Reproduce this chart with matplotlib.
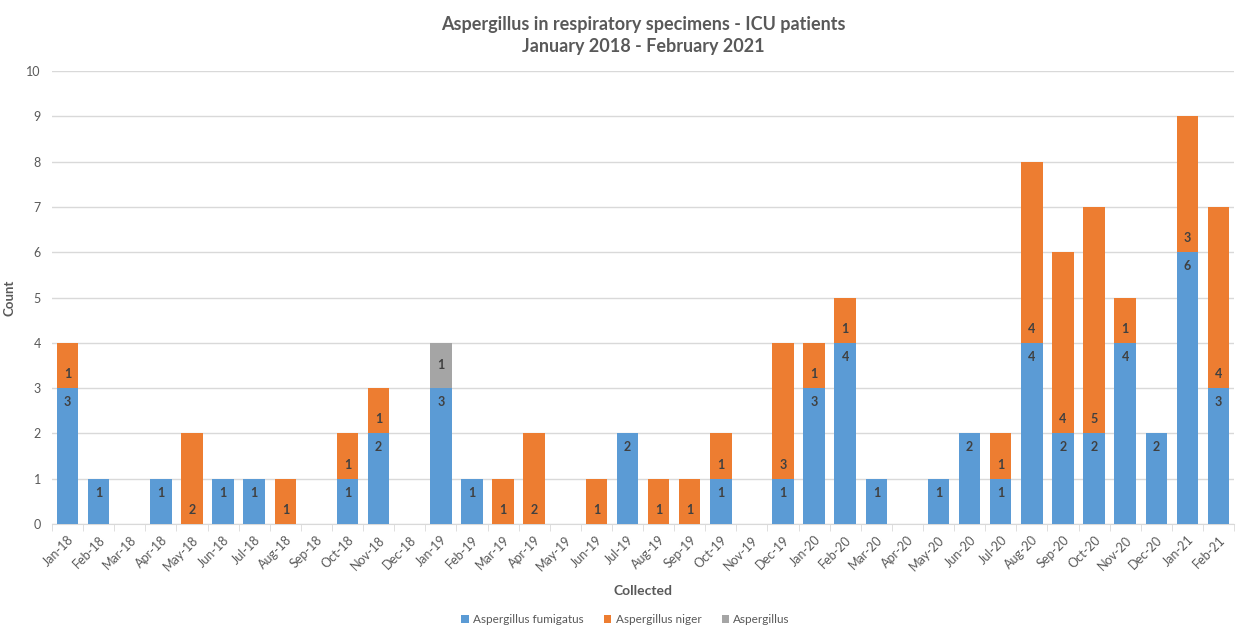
import matplotlib
matplotlib.use("Agg")
import matplotlib.pyplot as plt
import numpy as np

plt.rcParams['font.family'] = ['Lato', 'DejaVu Sans']

months = ["Jan-18","Feb-18","Mar-18","Apr-18","May-18","Jun-18","Jul-18","Aug-18","Sep-18","Oct-18","Nov-18","Dec-18",
          "Jan-19","Feb-19","Mar-19","Apr-19","May-19","Jun-19","Jul-19","Aug-19","Sep-19","Oct-19","Nov-19","Dec-19",
          "Jan-20","Feb-20","Mar-20","Apr-20","May-20","Jun-20","Jul-20","Aug-20","Sep-20","Oct-20","Nov-20","Dec-20",
          "Jan-21","Feb-21"]
fumigatus = [3,1,0,1,0,1,1,0,0,1,2,0,
             3,1,0,0,0,0,2,0,0,1,0,1,
             3,4,1,0,1,2,1,4,2,2,4,2,
             6,3]
niger = [1,0,0,0,2,0,0,1,0,1,1,0,
         0,0,1,2,0,1,0,1,1,1,0,3,
         1,1,0,0,0,0,1,4,4,5,1,0,
         3,4]
aspergillus = [0,0,0,0,0,0,0,0,0,0,0,0,
               1,0,0,0,0,0,0,0,0,0,0,0,
               0,0,0,0,0,0,0,0,0,0,0,0,
               0,0]
series = [("Aspergillus fumigatus", fumigatus, "#5B9BD5", "end"),
          ("Aspergillus niger", niger, "#ED7D31", "base"),
          ("Aspergillus", aspergillus, "#A5A5A5", "center")]

fig = plt.figure(figsize=(12.39, 6.29), dpi=100)
ax = fig.add_axes([0.042, 0.167, 0.954, 0.72])
x = np.arange(len(months))
bottom = np.zeros(len(months))
txtc = "#404040"
for name, vals, col, pos in series:
    v = np.array(vals, dtype=float)
    ax.bar(x, v, 0.69, bottom=bottom, color=col, label=name, zorder=3)
    for xi, (b, val) in enumerate(zip(bottom, v)):
        if val > 0:
            if pos == "end":
                yy = b + val - 0.31
            elif pos == "base":
                yy = b + 0.31
            else:
                yy = b + val / 2
            ax.text(xi, yy, f"{int(val)}", ha='center', va='center',
                    fontsize=9, fontweight='bold', color=txtc, zorder=4)
    bottom += v

ax.set_xlim(-0.5, len(months) - 0.5)
ax.set_ylim(0, 10)
ax.set_yticks(range(0, 11))
ax.yaxis.grid(True, color="#D9D9D9", linewidth=1, zorder=0)
for s in ['top', 'right', 'left']:
    ax.spines[s].set_visible(False)
ax.spines['bottom'].set_color("#D9D9D9")
ax.tick_params(axis='y', length=0, labelsize=9, labelcolor="#595959", pad=8)
ax.set_xticks(x)
ax.set_xticklabels(months, rotation=45, ha='right', rotation_mode='anchor', fontsize=9, color="#595959")
ax.tick_params(axis='x', which='major', length=0, pad=7)
ax.set_xticks(np.arange(-0.5, len(months), 1), minor=True)
ax.tick_params(axis='x', which='minor', length=5, color="#D9D9D9")

ax.set_ylabel("Count", fontsize=9.5, fontweight='bold', color="#595959")
ax.yaxis.set_label_coords(-0.031, 0.5)
ax.set_xlabel("Collected", fontsize=10, fontweight='bold', color="#595959")
ax.xaxis.set_label_coords(0.5, -0.135)
ax.set_title("Aspergillus in respiratory specimens - ICU patients\nJanuary 2018 - February 2021",
             fontsize=13, fontweight='bold', color="#595959", pad=14, linespacing=1.35)
fig.legend(*ax.get_legend_handles_labels(), loc='center', bbox_to_anchor=(0.505, 0.015), ncol=3, frameon=False,
           fontsize=8.5, handlelength=0.6, handleheight=0.6, columnspacing=1.7, handletextpad=0.4,
           labelcolor="#595959")
fig.savefig("out.png", dpi=100)
